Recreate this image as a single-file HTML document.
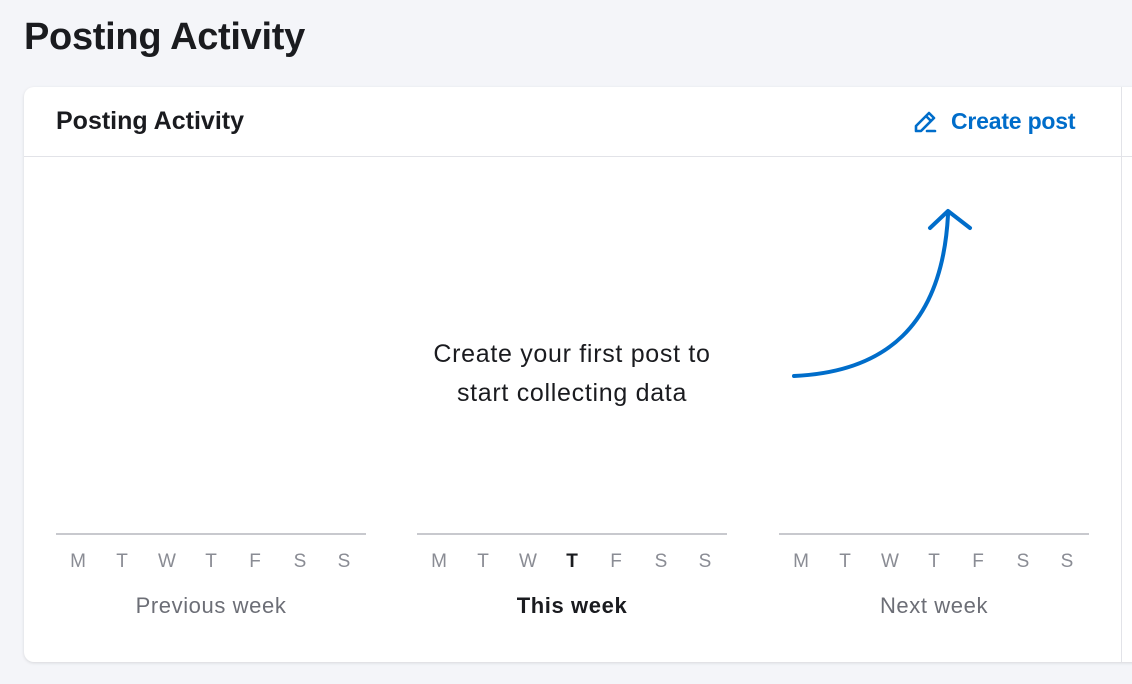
<!DOCTYPE html>
<html><head><meta charset="utf-8"><style>
body{margin:0;width:1132px;height:684px;background:#f4f5f9;font-family:"Liberation Sans",Arial,sans-serif;position:relative;overflow:hidden}
h1{position:absolute;left:24px;top:16px;margin:0;font-size:38px;font-weight:bold;color:#1a1b1f;letter-spacing:-0.3px}
.card{position:absolute;left:24px;top:87px;width:1130px;height:575px;background:#fff;border-radius:10px;box-shadow:0 1px 3px rgba(0,0,0,.12);overflow:hidden}
.hd{position:absolute;left:0;top:0;width:100%;height:69px;border-bottom:1px solid #e2e3e8}
.t{position:absolute;left:32px;top:20px;font-size:25px;font-weight:bold;color:#1a1b1f}
.cp{position:absolute;left:927px;top:21px;font-size:23px;color:#006dca;font-weight:bold;letter-spacing:-0.2px}
.vl{position:absolute;left:1097px;top:0;width:1px;height:100%;background:#e2e3e8}
.msg{position:absolute;left:348px;top:248px;width:400px;text-align:center;font-size:25px;letter-spacing:0.7px;line-height:39px;color:#1a1b1f;white-space:nowrap}
.wk{position:absolute;top:446px;width:310px;border-top:2px solid #c8c9ce}
.d{position:absolute;top:16px;width:20px;margin-left:-10px;text-align:center;font-size:19px;color:#8a8c94}
.wl{position:absolute;top:58px;width:100%;text-align:center;font-size:22px;letter-spacing:0.6px;color:#6c6e76}
</style></head><body>
<h1>Posting Activity</h1>
<div class="card">
<div class="hd"><div class="t">Posting Activity</div>
<svg style="position:absolute;left:889px;top:21px" width="26" height="26" viewBox="0 0 26 26" fill="none" stroke="#006dca" stroke-width="2.6" stroke-linejoin="round" stroke-linecap="round"><path d="M3 23v-5L16 5l5 5L8 23z M13 8l5 5 M14 23h8"/></svg>
<div class="cp">Create post</div></div>
<div class="vl"></div>
<div class="msg">Create your first post to<br>start collecting data</div>
<svg style="position:absolute;left:0;top:0" width="1100" height="400" fill="none" stroke="#006dca" stroke-width="4" stroke-linecap="round" stroke-linejoin="round"><path d="M770 289C860 285 918 240 924 128"/><path d="M906 141L924 124L946 141"/></svg>
<div class="wk" style="left:32px"><div class="d" style="left:22px">M</div><div class="d" style="left:66px">T</div><div class="d" style="left:111px">W</div><div class="d" style="left:155px">T</div><div class="d" style="left:199px">F</div><div class="d" style="left:244px">S</div><div class="d" style="left:288px">S</div><div class="wl">Previous week</div></div>
<div class="wk" style="left:393px"><div class="d" style="left:22px">M</div><div class="d" style="left:66px">T</div><div class="d" style="left:111px">W</div><div class="d" style="left:155px;color:#1a1b1f;font-weight:bold">T</div><div class="d" style="left:199px">F</div><div class="d" style="left:244px">S</div><div class="d" style="left:288px">S</div><div class="wl" style="color:#1a1b1f;font-weight:bold">This week</div></div>
<div class="wk" style="left:755px"><div class="d" style="left:22px">M</div><div class="d" style="left:66px">T</div><div class="d" style="left:111px">W</div><div class="d" style="left:155px">T</div><div class="d" style="left:199px">F</div><div class="d" style="left:244px">S</div><div class="d" style="left:288px">S</div><div class="wl">Next week</div></div>
</div>
</body></html>
